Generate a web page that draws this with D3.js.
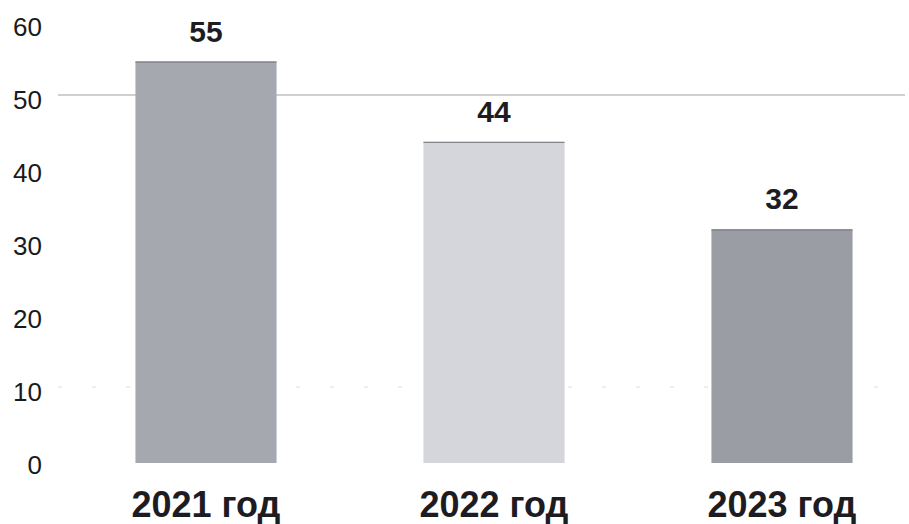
<!DOCTYPE html>
<html>
<head>
<meta charset="utf-8">
<script src="https://cdn.jsdelivr.net/npm/d3@7"></script>
<style>
  body { margin: 0; background: #fff; }
  text { font-family: "Liberation Sans", Arial, sans-serif; }
</style>
</head>
<body>
<div id="vis"></div>
<script>
// chart data
var categories = ["2021 год", "2022 год", "2023 год"];
var values = [55, 44, 32];
var barColors = ["#a6a8b0", "#d4d6dc", "#9b9da5"];
var yTicks = [0, 10, 20, 30, 40, 50, 60];
var gridValues = [50, 10];

var width = 909, height = 524;

var svg = d3.select("#vis").append("svg")
  .attr("width", width)
  .attr("height", height);

var x = d3.scaleBand()
  .domain(categories)
  .range([62, 926])
  .paddingInner(0.51)
  .paddingOuter(0.255);

var y = d3.scaleLinear()
  .domain([0, 60])
  .range([463, 25]);

// faint gridlines (only partly visible in the scan)
svg.append("g").selectAll("line")
  .data(gridValues)
  .enter().append("line")
  .attr("x1", 58)
  .attr("x2", 905)
  .attr("y1", function(d) { return y(d) - 3; })
  .attr("y2", function(d) { return y(d) - 3; })
  .attr("stroke", function(d) { return d == 50 ? "#a0a0a0" : "#dddddd"; })
  .attr("stroke-width", 1)
  .attr("stroke-dasharray", function(d) { return d == 50 ? "none" : "4 30"; });

// y axis labels, no axis line
var yAxis = d3.axisLeft(y).tickValues(yTicks).tickSize(0).tickPadding(0);
var ya = svg.append("g")
  .attr("transform", "translate(42,2)")
  .call(yAxis);
ya.select(".domain").remove();
ya.selectAll("text")
  .attr("font-family", "Liberation Sans, Arial, sans-serif")
  .attr("font-size", 26)
  .attr("fill", "#1a1a1a");

// bars
svg.append("g").selectAll("rect")
  .data(values)
  .enter().append("rect")
  .attr("x", function(d, i) { return x(categories[i]); })
  .attr("y", function(d) { return y(d); })
  .attr("width", x.bandwidth())
  .attr("height", function(d) { return y(0) - y(d); })
  .attr("fill", function(d, i) { return barColors[i]; });

// darker top edge of each bar
svg.append("g").selectAll("line")
  .data(values)
  .enter().append("line")
  .attr("x1", function(d, i) { return x(categories[i]); })
  .attr("x2", function(d, i) { return x(categories[i]) + x.bandwidth(); })
  .attr("y1", function(d) { return y(d) + 0.5; })
  .attr("y2", function(d) { return y(d) + 0.5; })
  .attr("stroke", "#6f7076")
  .attr("stroke-width", 1);

// value labels
svg.append("g").selectAll("text")
  .data(values)
  .enter().append("text")
  .attr("x", function(d, i) { return x(categories[i]) + x.bandwidth() / 2; })
  .attr("y", function(d) { return y(d) - 20; })
  .attr("text-anchor", "middle")
  .attr("font-size", 30)
  .attr("font-weight", "bold")
  .attr("fill", "#1c1c22")
  .text(function(d) { return d; });

// category labels
svg.append("g").selectAll("text")
  .data(categories)
  .enter().append("text")
  .attr("x", function(d) { return x(d) + x.bandwidth() / 2; })
  .attr("y", 517)
  .attr("text-anchor", "middle")
  .attr("font-size", 36)
  .attr("font-weight", "bold")
  .attr("fill", "#1c1c22")
  .text(function(d) { return d; });
</script>
</body>
</html>
